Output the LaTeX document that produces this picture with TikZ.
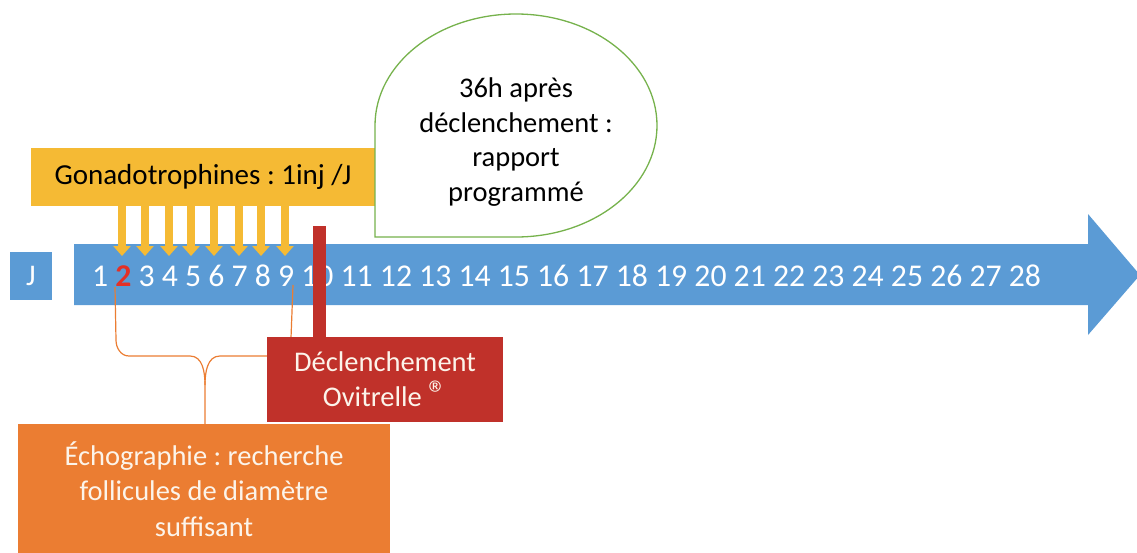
\documentclass[tikz,border=0pt]{standalone}
\usepackage{fontspec}
\setmainfont{Carlito}
\usetikzlibrary{arrows.meta}
\frenchspacing
\definecolor{cblue}{RGB}{91,155,213}
\definecolor{cyellow}{RGB}{245,186,52}
\definecolor{cred}{RGB}{192,49,42}
\definecolor{cdigit}{RGB}{228,48,38}
\definecolor{corange}{RGB}{235,125,50}
\definecolor{cgreen}{RGB}{118,178,76}
\definecolor{clight}{RGB}{252,244,234}
\tikzset{
  ybox/.style={fill=cyellow, inner sep=0pt, font=\fontsize{29}{34}\selectfont},
  rbox/.style={fill=cred, text=clight, align=center, inner sep=0pt, font=\fontsize{28.5}{35}\selectfont},
  obox/.style={fill=corange, text=clight, align=center, inner sep=0pt, font=\fontsize{28.5}{35.5}\selectfont},
  jbox/.style={fill=cblue, text=white, inner sep=0pt, font=\fontsize{30}{34}\selectfont},
  yarrow/.style={draw=cyellow, line width=8pt, -{Triangle[width=17pt,length=10pt]}},
  brace/.style={draw=corange, line width=1.2pt},
  bubble/.style={draw=cgreen, fill=white, line width=1.3pt},
}
\begin{document}
\begin{tikzpicture}[x=1pt,y=-1pt]
\useasboundingbox (0,0) rectangle (1137,552);
% big blue arrow
\fill[cblue] (74,244) -- (1088,244) -- (1088,214) -- (1140,275) -- (1088,335) -- (1088,305) -- (74,305) -- cycle;
% J box
\node[jbox, minimum width=42pt, minimum height=48pt] (J) at (31,276) {J};
% day numbers
\node[anchor=base west, inner sep=0pt, text=white, font=\fontsize{31.7}{34}\selectfont] (days) at (92,286)
  {1 {\color{cdigit}\bfseries 2} 3 4 5 6 7 8 9 10 11 12 13 14 15 16 17 18 19 20 21 22 23 24 25 26 27 28};
% yellow box
\node[ybox, minimum width=344pt, minimum height=58pt] (gona) at (203,177) {Gonadotrophines : 1inj /J};
% bubble
\draw[bubble] (375,237) -- (375,125.5) arc[start angle=180, end angle=0, x radius=141pt, y radius=111.5pt]
  arc[start angle=0, end angle=-90, x radius=141pt, y radius=111.5pt] -- cycle;
\node[align=center, inner sep=0pt, font=\fontsize{28.5}{34.5}\selectfont] (note) at (516,142)
  {36h après\\déclenchement :\\rapport\\programmé};
% yellow injection arrows
\foreach \x [count=\i] in {122,145,169,191,214,239,261,285} {
  \coordinate (t\i) at (\x,256);
  \draw[yarrow] (gona.south -| t\i) -- (t\i);
}
% echography box and brace
\node[obox, minimum width=372pt, minimum height=130pt] (echo) at (204,489)
  {Échographie : recherche\\follicules de diamètre\\suffisant};
\coordinate (bl) at (115,287);
\coordinate (br) at (293,285);
\coordinate (bm) at (205,385);
\draw[brace] (bl) -- (116,340) to[out=-90,in=180] (129,356) -- (190,356) to[out=0,in=90] (bm) -- (echo.north -| bm);
\draw[brace] (br) -- (291,338) to[out=-95,in=0] (278,356) -- (220,356) to[out=180,in=90] (bm);
% red trigger
\node[rbox, minimum width=236pt, minimum height=85pt] (decl) at (385,379.5)
  {Déclenchement\\Ovitrelle {\fontsize{37}{35}\selectfont ®}};
\coordinate (rtop) at (319.5,226);
\draw[cred, line width=13pt] (rtop) -- (rtop |- decl.north);
\end{tikzpicture}
\end{document}
